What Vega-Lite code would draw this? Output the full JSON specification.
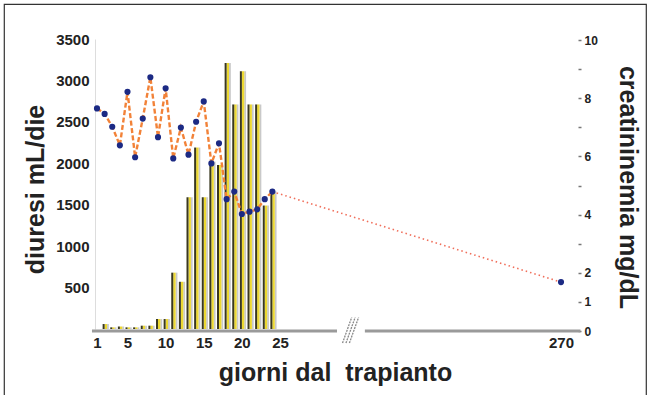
{
  "$schema": "https://vega.github.io/schema/vega-lite/v6.json",
  "width": 642,
  "height": 392,
  "autosize": {"type": "none"},
  "padding": {"left": 4, "top": 4, "right": 3, "bottom": 0},
  "background": "white",
  "config": {
    "view": {"stroke": "#333333", "strokeWidth": 1.2},
    "font": "Liberation Sans",
    "axis": {"labelFont": "Liberation Sans", "titleFont": "Liberation Sans", "grid": false}
  },
  "datasets": {
    "diuresi": [
      {"giorno": 2, "diuresi": 60}, {"giorno": 3, "diuresi": 20}, {"giorno": 4, "diuresi": 30},
      {"giorno": 5, "diuresi": 20}, {"giorno": 6, "diuresi": 20}, {"giorno": 7, "diuresi": 40},
      {"giorno": 8, "diuresi": 40}, {"giorno": 9, "diuresi": 120}, {"giorno": 10, "diuresi": 120},
      {"giorno": 11, "diuresi": 680}, {"giorno": 12, "diuresi": 570}, {"giorno": 13, "diuresi": 1590},
      {"giorno": 14, "diuresi": 2190}, {"giorno": 15, "diuresi": 1590}, {"giorno": 16, "diuresi": 2020},
      {"giorno": 17, "diuresi": 1980}, {"giorno": 18, "diuresi": 3210}, {"giorno": 19, "diuresi": 2710},
      {"giorno": 20, "diuresi": 3110}, {"giorno": 21, "diuresi": 2710}, {"giorno": 22, "diuresi": 2710},
      {"giorno": 23, "diuresi": 1490}, {"giorno": 24, "diuresi": 1660}
    ],
    "creat": [
      {"giorno": 1, "creatinina": 7.65}, {"giorno": 2, "creatinina": 7.46}, {"giorno": 3, "creatinina": 7.02},
      {"giorno": 4, "creatinina": 6.38}, {"giorno": 5, "creatinina": 8.22}, {"giorno": 6, "creatinina": 5.97},
      {"giorno": 7, "creatinina": 7.3}, {"giorno": 8, "creatinina": 8.72}, {"giorno": 9, "creatinina": 6.66},
      {"giorno": 10, "creatinina": 8.34}, {"giorno": 11, "creatinina": 5.93}, {"giorno": 12, "creatinina": 6.99},
      {"giorno": 13, "creatinina": 6.06}, {"giorno": 14, "creatinina": 7.19}, {"giorno": 15, "creatinina": 7.89},
      {"giorno": 16, "creatinina": 5.76}, {"giorno": 17, "creatinina": 6.45}, {"giorno": 18, "creatinina": 4.53},
      {"giorno": 19, "creatinina": 4.79}, {"giorno": 20, "creatinina": 4.02}, {"giorno": 21, "creatinina": 4.1},
      {"giorno": 22, "creatinina": 4.18}, {"giorno": 23, "creatinina": 4.53}, {"giorno": 24, "creatinina": 4.79},
      {"giorno": 270, "creatinina": 1.68}
    ],
    "asse": [
      {"giorno": 0.34, "fine": 74.7, "diuresi": 0},
      {"giorno": 99, "fine": 287, "diuresi": 0}
    ],
    "rottura": [
      {"giorno": 79.5, "fine": 87.5, "diuresi": -170, "diuresi2": 140},
      {"giorno": 82.5, "fine": 90.5, "diuresi": -170, "diuresi2": 140},
      {"giorno": 85.5, "fine": 93.5, "diuresi": -170, "diuresi2": 140}
    ]
  },
  "encoding": {
    "x": {
      "field": "giorno", "type": "quantitative",
      "scale": {"domain": [1, 25, 270], "range": [93, 276, 557], "nice": false, "zero": false, "padding": 0},
      "axis": {
        "values": [1, 5, 10, 15, 20, 25, 270],
        "domain": false, "ticks": false, "offset": -65,
        "labelPadding": 4, "labelFontSize": 15, "labelFontWeight": "bold", "labelColor": "#222222",
        "labelOverlap": false, "labelFlush": false,
        "title": "giorni dal\u00a0 trapianto", "titleFontSize": 25, "titleFontWeight": "bold", "titleColor": "#222222",
        "titleX": 331, "titleY": 41, "titleAlign": "center", "titleBaseline": "middle"
      }
    }
  },
  "layer": [
    {
      "encoding": {
        "y": {
          "field": "diuresi", "type": "quantitative",
          "scale": {"domain": [0, 3500], "range": [325, 35], "nice": false, "zero": false, "padding": 0},
          "axis": {
            "orient": "left", "offset": -91, "values": [500, 1000, 1500, 2000, 2500, 3000, 3500], "format": "d",
            "ticks": false, "domainColor": "#dddddd", "domainWidth": 1,
            "labelPadding": 6, "labelFontSize": 15, "labelFontWeight": "bold", "labelColor": "#222222",
            "labelOverlap": false, "labelFlush": false,
            "title": "diuresi mL/die", "titleFontSize": 25, "titleFontWeight": "bold", "titleColor": "#222222",
            "titleAngle": 270, "titleX": -60, "titleY": 185, "titleAlign": "center", "titleBaseline": "middle"
          }
        }
      },
      "layer": [
        {
          "data": {"name": "diuresi"},
          "mark": {"type": "bar", "orient": "vertical", "width": 1.8, "xOffset": 3.3, "color": "#c9c9c9"}
        },
        {
          "data": {"name": "diuresi"},
          "mark": {"type": "bar", "orient": "vertical", "width": 2.4, "xOffset": 1.2, "color": "#ecd832"}
        },
        {
          "data": {"name": "diuresi"},
          "mark": {"type": "bar", "orient": "vertical", "width": 2, "xOffset": -1, "color": "#3a3820"}
        },
        {
          "data": {"name": "asse"},
          "mark": {"type": "rule", "color": "#9a9a9a", "strokeWidth": 3, "yOffset": 2},
          "encoding": {"x2": {"field": "fine"}}
        },
        {
          "data": {"name": "rottura"},
          "mark": {"type": "rule", "color": "#888888", "strokeWidth": 1.3, "strokeDash": [2, 1]},
          "encoding": {"x2": {"field": "fine"}, "y2": {"field": "diuresi2"}}
        }
      ]
    },
    {
      "data": {"name": "creat"},
      "encoding": {
        "y": {
          "field": "creatinina", "type": "quantitative",
          "scale": {"domain": [0, 10], "range": [327, 36], "nice": false, "zero": false, "padding": 0},
          "axis": {
            "orient": "right", "offset": -68, "values": [0, 1, 2, 3, 4, 5, 6, 7, 8, 9, 10],
            "labelExpr": "indexof([0, 1, 2, 4, 6, 8, 10], datum.value) >= 0 ? datum.label : ''",
            "domain": false, "tickSize": 3, "tickColor": "#777777", "tickWidth": 1.5,
            "labelPadding": 3, "labelFontSize": 12, "labelFontWeight": "bold", "labelColor": "#222222",
            "labelOverlap": false, "labelFlush": false,
            "title": "creatininemia mg/dL", "titleFontSize": 25, "titleFontWeight": "bold", "titleColor": "#222222",
            "titleAngle": 90, "titleX": 49, "titleY": 183, "titleAlign": "center", "titleBaseline": "middle"
          }
        }
      },
      "layer": [
        {
          "transform": [{"filter": "datum.giorno <= 24"}],
          "mark": {"type": "line", "color": "#f28238", "strokeWidth": 2.4, "strokeDash": [5, 2.5]}
        },
        {
          "transform": [{"filter": "datum.giorno >= 24"}],
          "mark": {"type": "line", "color": "#f06e5a", "strokeWidth": 1.6, "strokeDash": [1.5, 3]}
        },
        {
          "mark": {"type": "point", "filled": true, "shape": "circle", "size": 38, "color": "#1c2a84", "opacity": 1}
        }
      ]
    }
  ],
  "resolve": {"scale": {"y": "independent"}}
}
